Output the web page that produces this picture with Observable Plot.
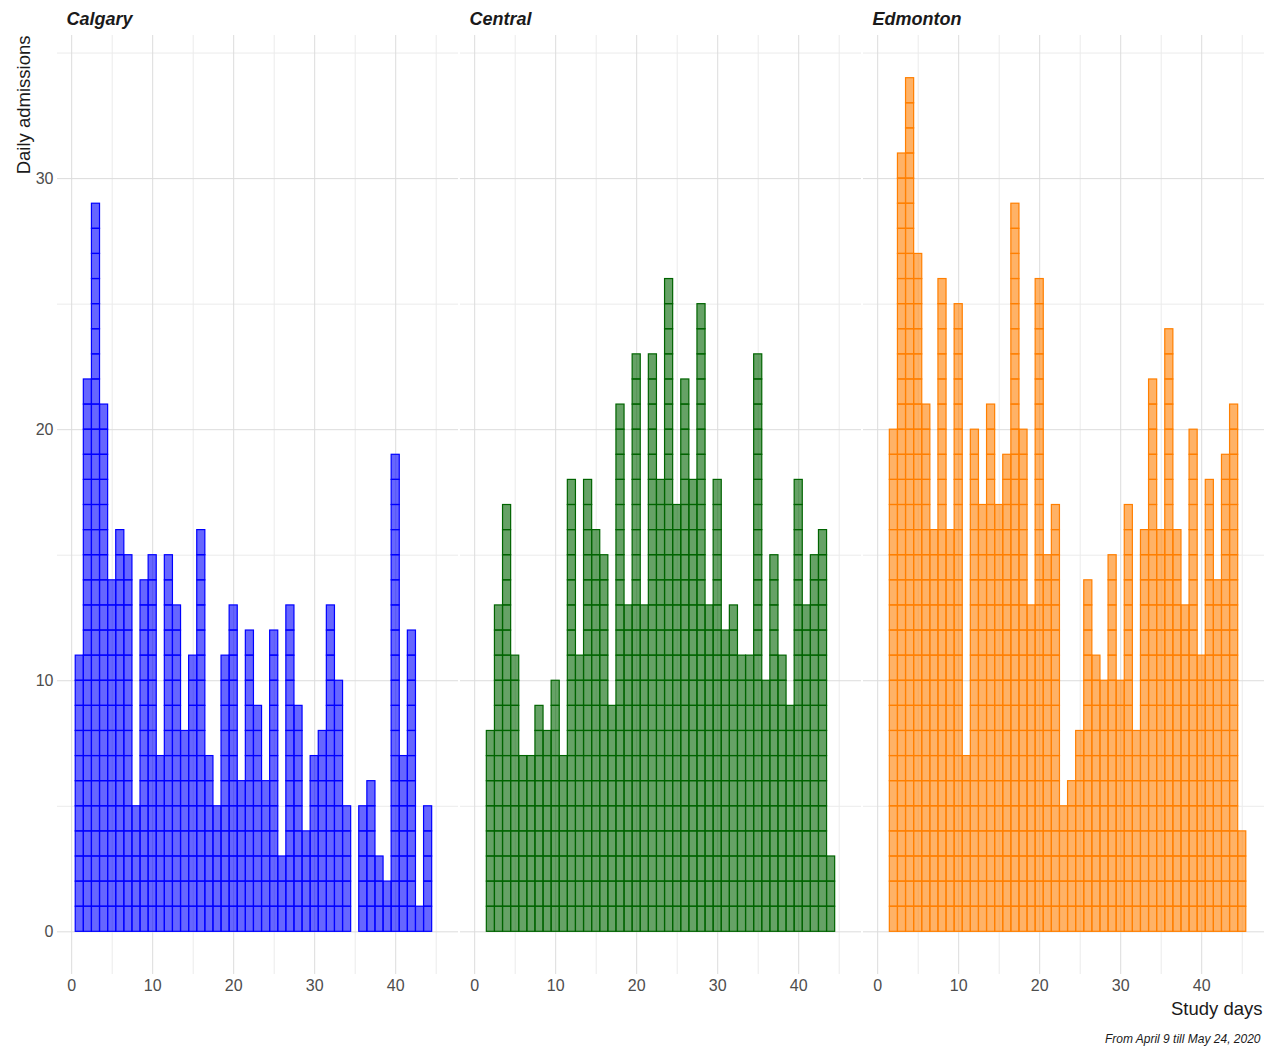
<!DOCTYPE html>
<html>
<head>
<meta charset="utf-8">
<script src="https://cdn.jsdelivr.net/npm/d3@7"></script>
<script src="https://cdn.jsdelivr.net/npm/@observablehq/plot@0.6"></script>
<style>
  html, body { margin: 0; padding: 0; background: #ffffff; }
</style>
</head>
<body>
<div id="chart"></div>
<script>
// ---- data ----
const regions = ["Calgary", "Central", "Edmonton"];
const regionColors = ["#0000ff", "#006400", "#ff7f00"];

const calgaryFirstDay = 1;
const calgaryAdmissions = [11, 22, 29, 21, 14, 16, 15, 5, 14, 15, 7, 15, 13, 8, 11, 16, 7, 5, 11, 13, 6, 12, 9, 6, 12, 3, 13, 9, 4, 7, 8, 13, 10, 5, 0, 5, 6, 3, 2, 19, 7, 12, 1, 5];

const centralFirstDay = 2;
const centralAdmissions = [8, 13, 17, 11, 7, 7, 9, 8, 10, 7, 18, 11, 18, 16, 15, 9, 21, 13, 23, 13, 23, 18, 26, 17, 22, 18, 25, 13, 18, 12, 13, 11, 11, 23, 10, 15, 11, 9, 18, 13, 15, 16, 3];

const edmontonFirstDay = 2;
const edmontonAdmissions = [20, 31, 34, 27, 21, 16, 26, 16, 25, 7, 20, 17, 21, 17, 19, 29, 20, 13, 26, 15, 17, 5, 6, 8, 14, 11, 10, 15, 10, 17, 8, 16, 22, 16, 24, 16, 13, 20, 11, 18, 14, 19, 21, 4];

const xTicks = [0, 10, 20, 30, 40];
const xMinorTicks = [5, 15, 25, 35, 45];
const yTicks = [0, 10, 20, 30];
const yMinorTicks = [5, 15, 25, 35];

const yTitle = "Daily admissions";
const xTitle = "Study days";
const caption = "From April 9 till May 24, 2020";

// ---- build one unit cell per admission ----
const series = [
  {region: "Calgary", first: calgaryFirstDay, values: calgaryAdmissions},
  {region: "Central", first: centralFirstDay, values: centralAdmissions},
  {region: "Edmonton", first: edmontonFirstDay, values: edmontonAdmissions}
];
const cells = series.flatMap(s =>
  s.values.flatMap((n, i) => d3.range(n).map(k => ({region: s.region, day: s.first + i, k})))
);

const sans = "'Liberation Sans', Arial, sans-serif";
const narrow = "'Liberation Sans Narrow', 'Liberation Sans', Arial, sans-serif";

const chart = Plot.plot({
  width: 1267,
  height: 1048,
  marginTop: 35,
  marginBottom: 74,
  marginLeft: 57,
  marginRight: 3,
  style: {fontFamily: narrow, fontSize: "16px", color: "#4d4d4d", background: "#ffffff"},
  fx: {domain: regions, paddingInner: 0.005, paddingOuter: 0, axis: null, round: false},
  x: {domain: [-1.75, 47.75], ticks: xTicks, tickSize: 0, tickPadding: 5, label: null},
  y: {domain: [-1.7, 35.7], ticks: yTicks, tickSize: 0, tickPadding: 4, label: null},
  color: {domain: regions, range: regionColors},
  marks: [
    Plot.ruleX(xMinorTicks, {stroke: "#ebebeb", strokeWidth: 1}),
    Plot.ruleY(yMinorTicks, {stroke: "#ebebeb", strokeWidth: 1}),
    Plot.ruleX(xTicks, {stroke: "#dcdcdc", strokeWidth: 1}),
    Plot.ruleY(yTicks, {stroke: "#dcdcdc", strokeWidth: 1}),
    Plot.rect(cells, {
      fx: "region",
      x1: d => d.day - 0.5,
      x2: d => d.day + 0.5,
      y1: "k",
      y2: d => d.k + 1,
      fill: "region",
      fillOpacity: 0.6,
      stroke: "region",
      strokeWidth: 1.2
    }),
    Plot.text(regions, {
      fx: d => d, text: d => d,
      frameAnchor: "top-left", textAnchor: "start",
      dx: 9, dy: -16, lineAnchor: "middle",
      fontFamily: sans, fontWeight: "bold", fontStyle: "italic", fontSize: 18, fill: "#1a1a1a"
    }),
    Plot.text([yTitle], {
      fx: () => "Calgary", text: d => d,
      frameAnchor: "top-left", textAnchor: "end", rotate: -90,
      dx: -41, dy: 0,
      fontFamily: sans, fontSize: 18.5, fill: "#1a1a1a"
    }),
    Plot.text([xTitle], {
      fx: () => "Edmonton", text: d => d,
      frameAnchor: "bottom-right", textAnchor: "end",
      dx: -2, dy: 40,
      fontFamily: sans, fontSize: 18.5, fill: "#1a1a1a"
    }),
    Plot.text([caption], {
      fx: () => "Edmonton", text: d => d,
      frameAnchor: "bottom-right", textAnchor: "end",
      dx: -4, dy: 68,
      fontFamily: narrow, fontStyle: "italic", fontSize: 12, fill: "#1a1a1a"
    })
  ]
});
document.getElementById("chart").appendChild(chart);
</script>
</body>
</html>
